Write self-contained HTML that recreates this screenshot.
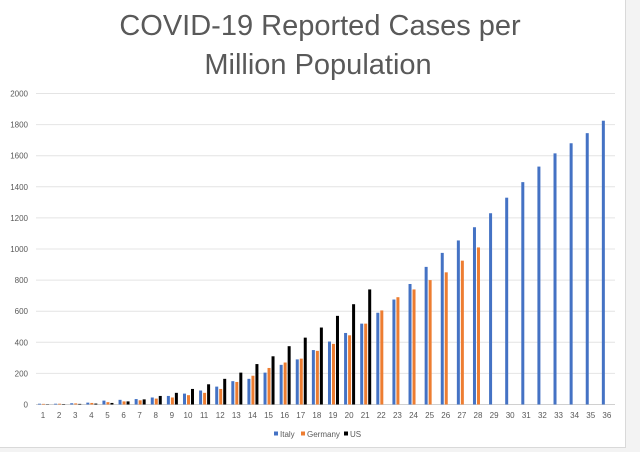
<!DOCTYPE html>
<html><head><meta charset="utf-8"><style>
html,body{margin:0;padding:0;width:640px;height:452px;overflow:hidden;background:#f3f3f3;font-family:"Liberation Sans",sans-serif}
#chart{position:absolute;left:0;top:0;width:625px;height:447px;background:#fff;border-right:1px solid #d9d9d9;border-bottom:1px solid #d9d9d9}
</style></head><body>
<div id="chart">
<svg id="svg" width="640" height="452" style="position:absolute;left:0;top:0">
<text x="320" y="35" text-anchor="middle" font-size="29" fill="#595959">COVID-19 Reported Cases per</text>
<text x="318" y="74" text-anchor="middle" font-size="29" fill="#595959">Million Population</text>
</svg>
</div>
<script>
const categories=[];for(let i=1;i<=36;i++)categories.push(String(i));
const italy=[5,5,8,12,25,30,35,45,55,70,90,115,150,165,205,255,290,350,405,460,520,590,675,775,885,975,1055,1140,1230,1330,1430,1530,1615,1680,1745,1825];
const germany=[4,5,7,10,15,20,27,38,45,60,75,100,145,185,235,270,295,345,390,445,520,605,690,740,800,850,925,1010];
const us=[2,3,4,6,10,20,33,55,75,100,130,165,205,260,310,375,430,495,570,645,740];
const yTicks=[0,200,400,600,800,1000,1200,1400,1600,1800,2000];
const svg=document.getElementById('svg');const NS='http://www.w3.org/2000/svg';
const y=v=>404.5-v*311/2000;
const x=i=>43+i*16.11;
function mk(t,a){const e=document.createElementNS(NS,t);for(const k in a)e.setAttribute(k,a[k]);svg.appendChild(e);return e;}
yTicks.forEach(t=>{
 const g=mk('line',{x1:36,x2:615,y1:y(t),y2:y(t),stroke:t===0?'#d0d0d0':'#e4e4e4','stroke-width':1});
 
 
 const l=mk('text',{x:28,y:y(t)+3,'text-anchor':'end','font-size':8,fill:'#595959'});l.textContent=t;
 
 
});
categories.forEach((c,i)=>{
 const l=mk('text',{x:x(i),y:418,'text-anchor':'middle','font-size':8,fill:'#595959'});l.textContent=c;
 
 
});
function series(arr,off,col,name){arr.forEach((v,i)=>{
 const r=mk('rect',{x:x(i)+off,y:y(v),width:3,height:404.5-y(v),fill:col});
 
 
});}
series(italy,-5,'#4472c4','italy');series(germany,-1,'#ed7d31','germany');series(us,3,'#000000','us');
[['Italy','#4472c4',274],['Germany','#ed7d31',301],['US','#000000',344]].forEach(([n,c,lx])=>{
 const r=mk('rect',{x:lx,y:431.5,width:4,height:4,fill:c});
 
 
 const t=mk('text',{x:lx+6,y:437,'font-size':8,fill:'#595959'});t.textContent=n;
 
 
});
</script>
</body></html>
